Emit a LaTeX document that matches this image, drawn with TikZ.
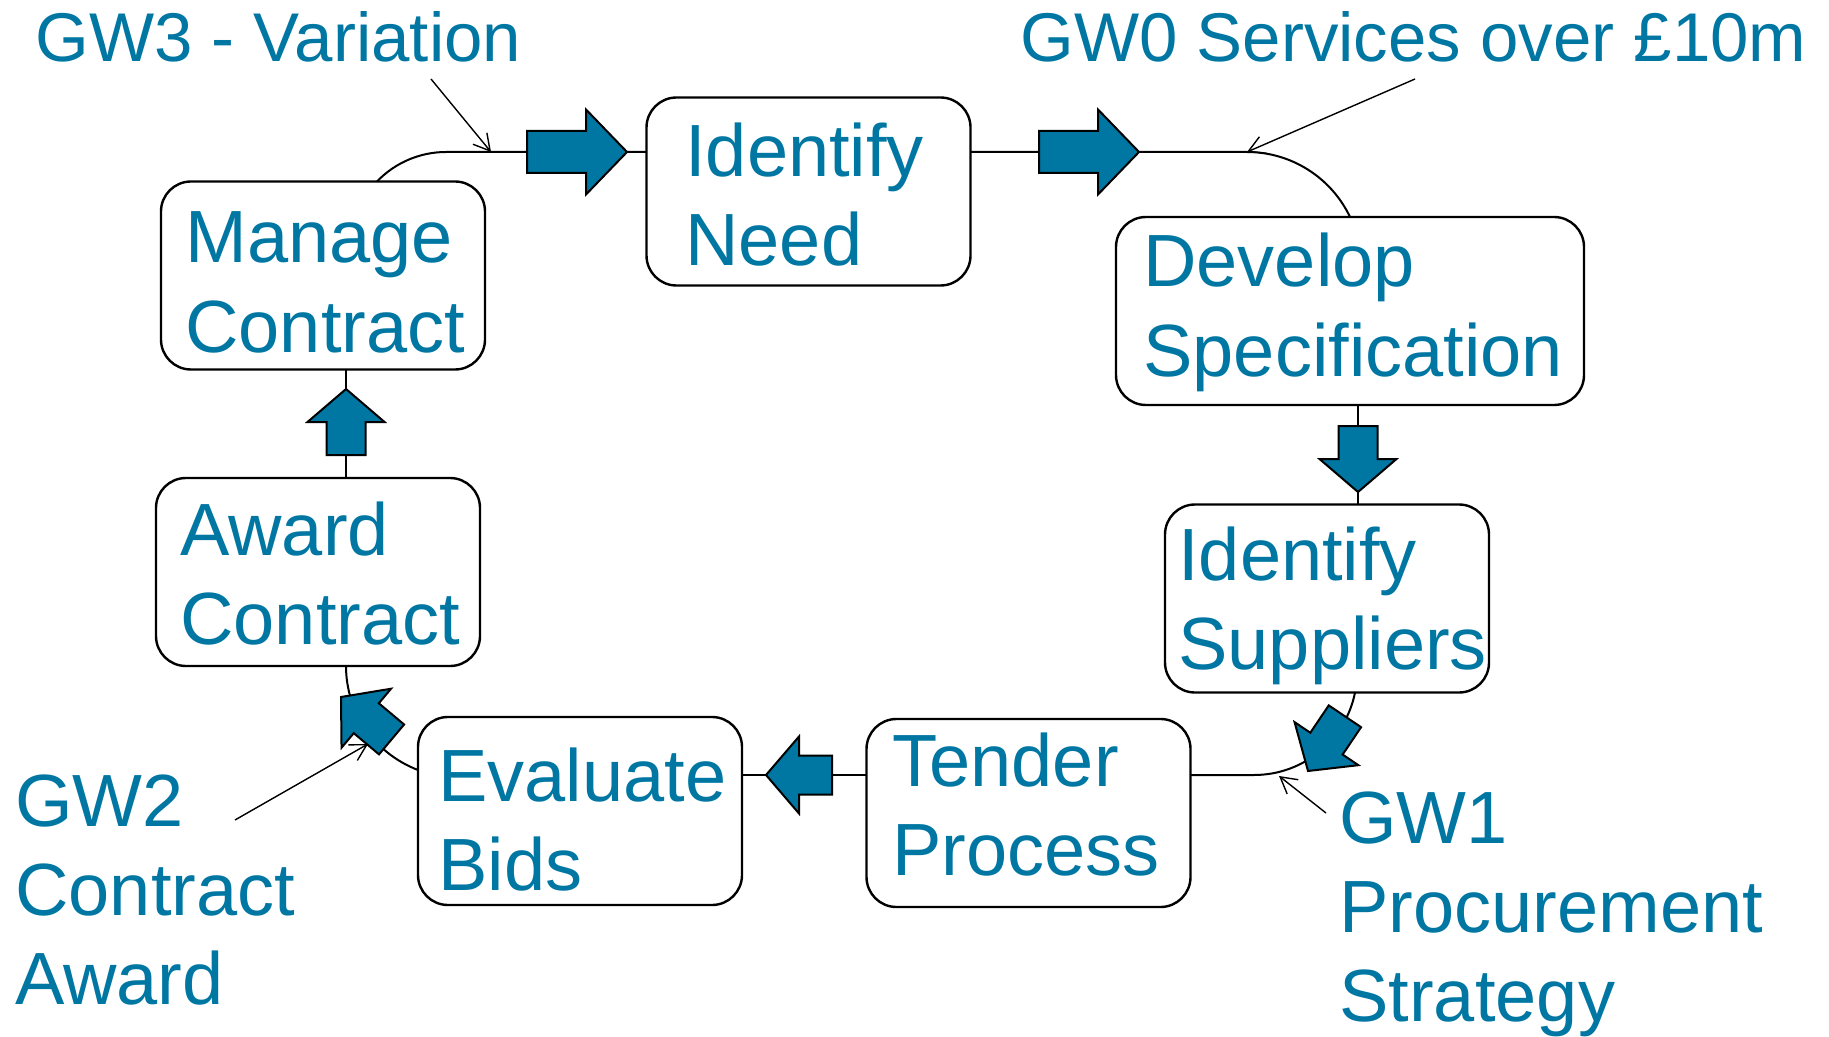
\documentclass[tikz,border=0pt]{standalone}
\usepackage{fontspec}
\setmainfont{Liberation Sans}
\usetikzlibrary{arrows.meta,calc}
\definecolor{procblue}{RGB}{0,119,163}

\begin{document}
\begin{tikzpicture}[x=0.5pt,y=-0.5pt,
  stage/.style={draw=black, line width=1.2pt, fill=white, rounded corners=15pt,
    minimum width=162pt, minimum height=94pt, inner sep=0pt, outer sep=0pt},
  % text nodes are placed by the baseline of their last line
  stagetext/.style={anchor=base west, align=left, inner sep=0pt, text=procblue,
    font=\fontsize{37}{44.5}\selectfont},
  gwsmall/.style={anchor=base west, align=left, inner sep=0pt, text=procblue,
    font=\fontsize{34.5}{41}\selectfont},
  conn/.style={line width=1pt},
  pointer/.style={line width=0.7pt, -{Straight Barb[length=8pt,width=9pt]}},
  blk/.style={fill=procblue, draw=black, line width=1pt, line join=miter},
  bigarrow/.pic={\path[blk] (0,0) -- (-41,-42.5) -- (-41,-21) -- (-100,-21)
    -- (-100,21) -- (-41,21) -- (-41,42.5) -- cycle;},
  smallarrow/.pic={\path[blk] (0,0) -- (-33,-38.5) -- (-33,-19.5) -- (-66,-19.5)
    -- (-66,19.5) -- (-33,19.5) -- (-33,38.5) -- cycle;},
]
\useasboundingbox (0,0) rectangle (1829,1037);

% process stages
\node[stage] (manage) at (323,275.5) {};
\node[stage] (need) at (808.5,191.5) {};
\node[stage, minimum width=234pt] (develop) at (1350,311) {};
\node[stage] (suppliers) at (1327,598.5) {};
\node[stage] (tender) at (1028.5,813) {};
\node[stage] (evaluate) at (580,811) {};
\node[stage] (award) at (318,572) {};

% bends and levels of the cycle
\coordinate (k1) at (446,152);
\coordinate (k2) at (1247,152);
\coordinate (k3) at (1358,492);
\coordinate (k5) at (1254,775);
\coordinate (k7) at (346,389);

% connectors
\draw[conn] ($(manage.north)+(54,0)$) .. controls (394.9,162.8) and (419.8,152) .. (k1)
  -- (need.west |- k1);
\draw[conn] (need.east |- k1) -- (k2)
  .. controls (1291,152) and (1331.1,177.3) .. (develop.north);
\draw[conn] (develop.south -| k3) -- (suppliers.north -| k3);
\draw[conn] ($(suppliers.south)+(28,0)$) .. controls (1345.5,740.3) and (1303.2,775) .. (k5)
  -- (tender.east |- k5);
\draw[conn] (tender.west |- k5) -- (evaluate.east |- k5);
\draw[conn] ($(evaluate.west)+(0,-41)$) .. controls (374.2,753.2) and (346,712) .. (award.south -| k7);
\draw[conn] (award.north -| k7) -- (manage.south -| k7);

% block arrows along the cycle
\pic at (627,152) {bigarrow};
\pic at (1139,152) {bigarrow};
\pic[rotate=-90] at (k3) {smallarrow};
\pic[rotate=-124] at (1308,771) {smallarrow};
\pic[rotate=180] at (766,775) {smallarrow};
\pic[rotate=140] at (341,697) {smallarrow};
\pic[rotate=90] at (k7) {smallarrow};

% stage names
\node[stagetext] (manage-t) at (185,352) {Manage\\Contract};
\node[stagetext] (need-t) at (685,266) {Identify\\Need};
\node[stagetext] (develop-t) at (1143,376) {Develop\\Specification};
\node[stagetext] (suppliers-t) at (1178,669) {Identify\\Suppliers};
\node[stagetext] (tender-t) at (892,875) {Tender\\Process};
\node[stagetext] (evaluate-t) at (438,890) {Evaluate\\Bids};
\node[stagetext] (award-t) at (180,644) {Award\\Contract};

% gateways
\node[gwsmall] (gw3) at (35,62) {GW3 - Variation};
\node[gwsmall] (gw0) at (1020,62) {GW0 Services over £10m};
\node[stagetext] (gw1) at (1339,1021) {GW1\\Procurement\\Strategy};
\node[stagetext] (gw2) at (15,1004) {GW2\\Contract\\Award};

\coordinate (p3) at (431,79);
\coordinate (p0) at (1415,79);
\coordinate (p1) at (1326,813);
\coordinate (p2) at (235,820);
\draw[pointer] (p3) -- (491,152);
\draw[pointer] (p0) -- (k2);
\draw[pointer] (p1) -- (1279,776);
\draw[pointer] (p2) -- (368,744);
\end{tikzpicture}
\end{document}
